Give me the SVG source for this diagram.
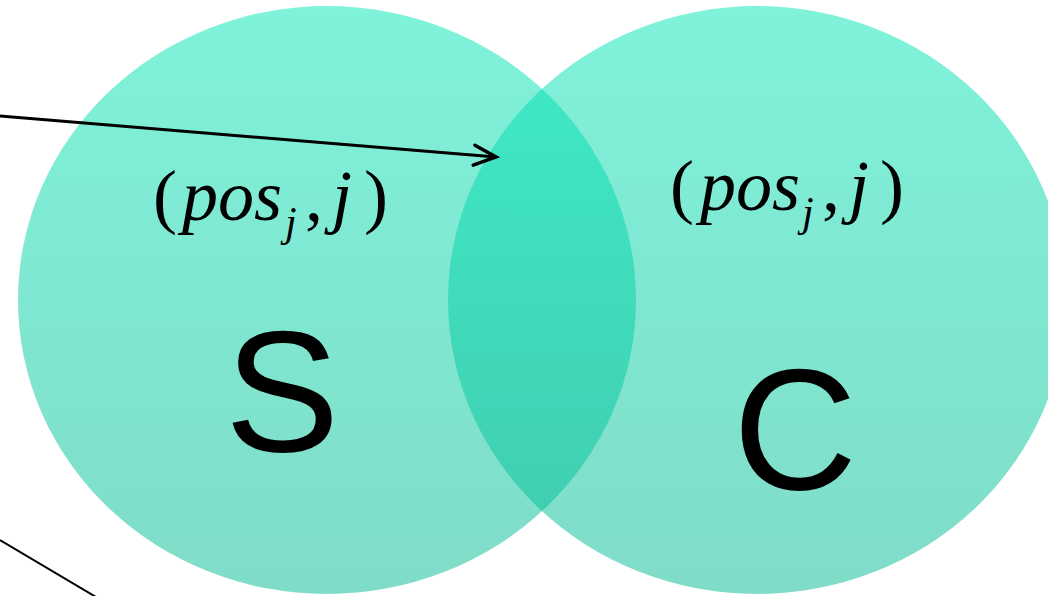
<svg xmlns="http://www.w3.org/2000/svg" width="1048" height="596" viewBox="0 0 1048 596">
  <style>
    .set { fill: url(#g); fill-opacity: 0.5; }
    .math { font-family: "Liberation Serif", "Times New Roman", serif; font-size: 72px; fill: #000; }
    .it { font-style: italic; }
    .sub { font-size: 42px; font-style: italic; }
    .big { font-family: "Liberation Sans", Arial, sans-serif; font-size: 172px; fill: #000; text-anchor: middle; }
    .conn { stroke: #000; fill: none; }
  </style>
  <defs>
    <linearGradient id="g" x1="0" y1="0" x2="0" y2="1">
      <stop offset="0" stop-color="#01E6B6"/>
      <stop offset="1" stop-color="#01B992"/>
    </linearGradient>
    <marker id="arr" markerUnits="userSpaceOnUse" markerWidth="40" markerHeight="40" viewBox="-30 -20 40 40" refX="0" refY="0" orient="auto">
      <path d="M-22,-10 L0,0 L-22,10" fill="none" stroke="#000" stroke-width="3.5" stroke-linecap="round" stroke-linejoin="miter"/>
    </marker>
  </defs>
  <rect width="1048" height="596" fill="#fff"/>
  <g id="set-S">
    <ellipse class="set" cx="327" cy="300" rx="309" ry="294"/>
    <text class="math" y="220"><tspan x="153">(</tspan><tspan class="it" x="182">pos</tspan><tspan class="sub" x="285" y="236">j</tspan><tspan x="305" y="220">,</tspan><tspan class="it" x="332">j</tspan><tspan x="364">)</tspan></text>
    <text class="big" x="282" y="451">S</text>
  </g>
  <g id="set-C">
    <ellipse class="set" cx="757" cy="300" rx="309" ry="294"/>
    <text class="math" y="210"><tspan x="670">(</tspan><tspan class="it" x="700">pos</tspan><tspan class="sub" x="802" y="226">j</tspan><tspan x="822" y="210">,</tspan><tspan class="it" x="849">j</tspan><tspan x="880">)</tspan></text>
    <text class="big" x="795" y="489">C</text>
  </g>
  <g id="connectors">
    <line class="conn" x1="0" y1="116" x2="496" y2="157" stroke-width="3" marker-end="url(#arr)"/>
    <line class="conn" x1="0" y1="540" x2="96" y2="597" stroke-width="2"/>
  </g>
</svg>
